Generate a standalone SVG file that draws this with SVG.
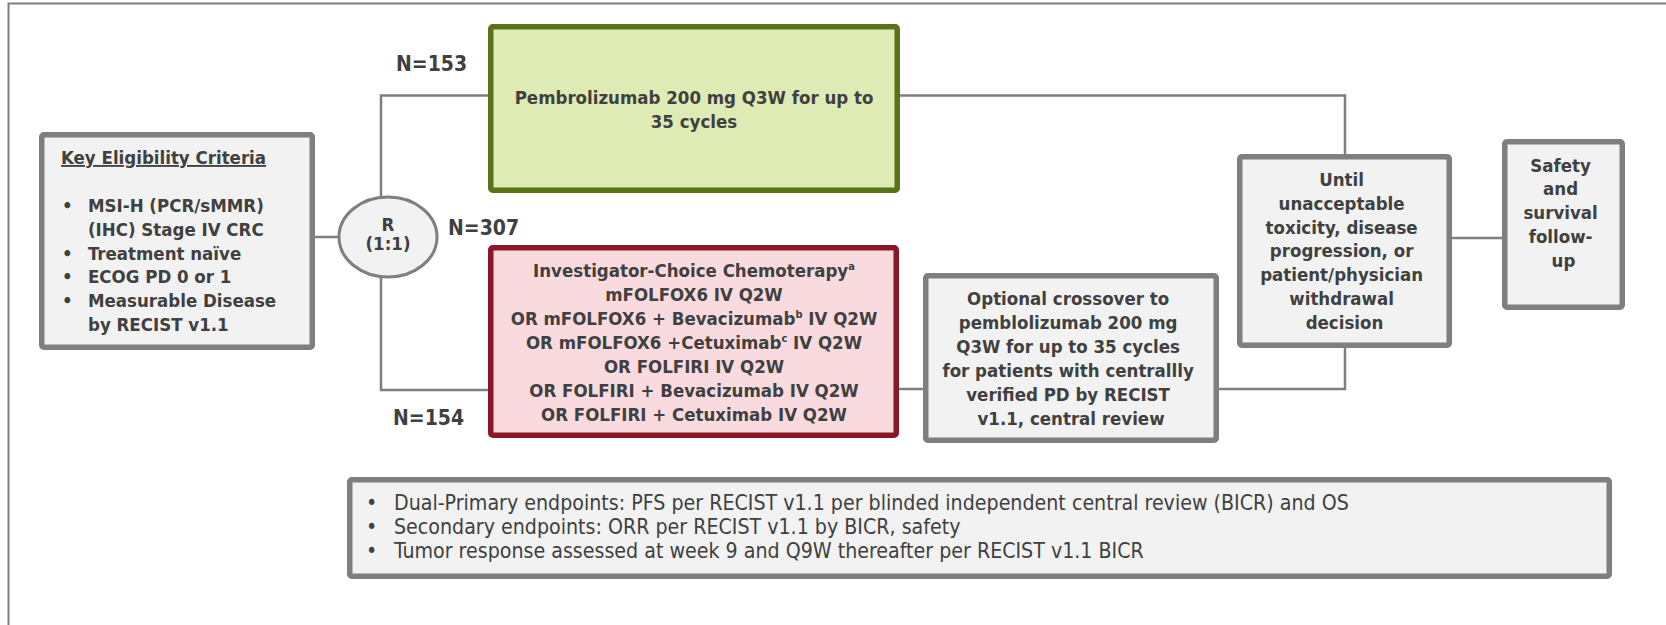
<svg xmlns="http://www.w3.org/2000/svg" width="1666" height="625" viewBox="0 0 1666 625">
<style>
.t{font-family:"DejaVu Sans Condensed","DejaVu Sans",sans-serif;font-stretch:condensed;font-weight:bold;fill:#404040;font-size:18.5px}
.c{text-anchor:middle}
.n{font-size:21px}
.r{font-weight:normal;font-size:21.2px}
.box{fill:#f2f2f2;stroke:#7f7f7f;stroke-width:5.5}
.con{fill:none;stroke:#7f7f7f;stroke-width:2.5}
</style>
<rect width="1666" height="625" fill="#fff"/>
<path d="M8.5,625 V3.5 H1666" fill="none" stroke="#7f7f7f" stroke-width="2"/>
<g id="connectors">
<path class="con" d="M315,237 H338"/>
<path class="con" d="M381,196 V95.5 H488"/>
<path class="con" d="M381,278 V390 H488"/>
<path class="con" d="M900,95.5 H1345 V154"/>
<path class="con" d="M898,389 H923"/>
<path class="con" d="M1219,389 H1345 V348"/>
<path class="con" d="M1452,238 H1502"/>
</g>
<g id="eligibility">
<rect class="box" x="41.75" y="134.75" width="270.5" height="212.5" rx="2"/>
<text class="t" x="61" y="164" font-size="18" text-decoration="underline">Key Eligibility Criteria</text>
<text class="t" font-size="18">
<tspan x="62" y="212">•</tspan><tspan x="88" y="212">MSI-H (PCR/sMMR)</tspan>
<tspan x="88" y="236">(IHC) Stage IV CRC</tspan>
<tspan x="62" y="259.5">•</tspan><tspan x="88" y="259.5">Treatment naïve</tspan>
<tspan x="62" y="283">•</tspan><tspan x="88" y="283">ECOG PD 0 or 1</tspan>
<tspan x="62" y="307">•</tspan><tspan x="88" y="307">Measurable Disease</tspan>
<tspan x="88" y="330.5">by RECIST v1.1</tspan>
</text>
</g>
<g id="randomization">
<ellipse cx="388" cy="237" rx="49" ry="40" fill="#f2f2f2" stroke="#7f7f7f" stroke-width="3"/>
<text class="t c" x="388" y="231" font-size="10.5">R</text>
<text class="t c" x="388" y="250" font-size="10.5">(1:1)</text>
</g>
<g id="labels">
<text class="t n" x="396" y="71">N=153</text>
<text class="t n" x="448" y="235">N=307</text>
<text class="t n" x="393" y="425">N=154</text>
</g>
<g id="pembro">
<rect x="490.75" y="26.75" width="406.5" height="163.5" rx="2" fill="#dfebb4" stroke="#5a7219" stroke-width="5.5"/>
<text class="t c" x="694" y="104">Pembrolizumab 200 mg Q3W for up to</text>
<text class="t c" x="694" y="128">35 cycles</text>
</g>
<g id="chemo">
<rect x="490.75" y="247.75" width="405.5" height="187.5" rx="2" fill="#f9dbdf" stroke="#8a1628" stroke-width="5.5"/>
<text class="t c" x="694" y="277">Investigator-Choice Chemoterapy<tspan font-size="11" dy="-7">a</tspan></text>
<text class="t c" x="694" y="301">mFOLFOX6 IV Q2W</text>
<text class="t c" x="694" y="325">OR mFOLFOX6 + Bevacizumab<tspan font-size="11" dy="-7">b</tspan><tspan dy="7"> IV Q2W</tspan></text>
<text class="t c" x="694" y="349">OR mFOLFOX6 +Cetuximab<tspan font-size="11" dy="-7">c</tspan><tspan dy="7"> IV Q2W</tspan></text>
<text class="t c" x="694" y="373">OR FOLFIRI IV Q2W</text>
<text class="t c" x="694" y="397">OR FOLFIRI + Bevacizumab IV Q2W</text>
<text class="t c" x="694" y="421">OR FOLFIRI + Cetuximab IV Q2W</text>
</g>
<g id="crossover">
<rect class="box" x="925.75" y="275.75" width="290.5" height="164.5" rx="2"/>
<text class="t c">
<tspan x="1071" y="305">Optional crossover to</tspan>
<tspan x="1071" y="329">pemblolizumab 200 mg</tspan>
<tspan x="1071" y="353">Q3W for up to 35 cycles</tspan>
<tspan x="1071" y="377">for patients with centrallly</tspan>
<tspan x="1071" y="401">verified PD by RECIST</tspan>
<tspan x="1071" y="424.5">v1.1, central review</tspan>
</text>
</g>
<g id="until">
<rect class="box" x="1239.75" y="156.75" width="209.5" height="188.5" rx="2"/>
<text class="t c" font-size="19">
<tspan x="1344.5" y="186">Until</tspan>
<tspan x="1344.5" y="209.5">unacceptable</tspan>
<tspan x="1344.5" y="233.5">toxicity, disease</tspan>
<tspan x="1344.5" y="257">progression, or</tspan>
<tspan x="1344.5" y="281">patient/physician</tspan>
<tspan x="1344.5" y="305">withdrawal</tspan>
<tspan x="1344.5" y="329">decision</tspan>
</text>
</g>
<g id="followup">
<rect class="box" x="1504.75" y="141.75" width="117.5" height="165.5" rx="2"/>
<text class="t c">
<tspan x="1563.5" y="171.5">Safety</tspan>
<tspan x="1563.5" y="195">and</tspan>
<tspan x="1563.5" y="219">survival</tspan>
<tspan x="1563.5" y="243">follow-</tspan>
<tspan x="1563.5" y="266.5">up</tspan>
</text>
</g>
<g id="endpoints">
<rect class="box" x="349.75" y="479.75" width="1259.5" height="96.5" rx="2"/>
<text class="t r">
<tspan x="366" y="510">•</tspan><tspan x="394" y="510">Dual-Primary endpoints: PFS per RECIST v1.1 per blinded independent central review (BICR) and OS</tspan>
<tspan x="366" y="534">•</tspan><tspan x="394" y="534">Secondary endpoints: ORR per RECIST v1.1 by BICR, safety</tspan>
<tspan x="366" y="558">•</tspan><tspan x="394" y="558">Tumor response assessed at week 9 and Q9W thereafter per RECIST v1.1 BICR</tspan>
</text>
</g>
</svg>
